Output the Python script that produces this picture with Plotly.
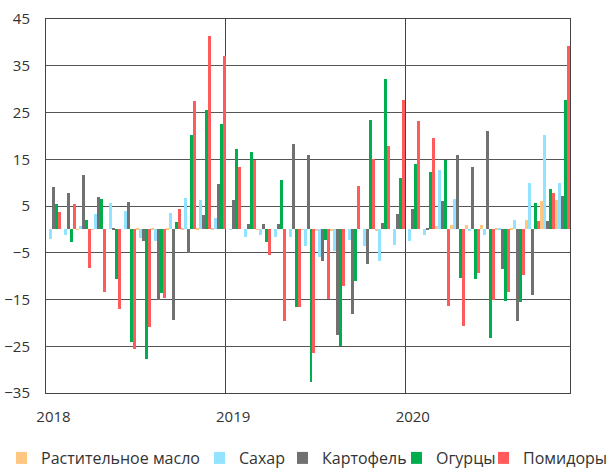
import plotly.graph_objects as go

months = list(range(35))  # Jan 2018 .. Nov 2020
tick_positions = [0, 12, 24]
tick_labels = ["2018", "2019", "2020"]
year_bounds = [11.5, 23.5]

oil = [0, 0, -0.1, -0.1, 0, 0, 0.2, 0.2, 0.4, 0.4, 0.1, 0.4,
       0, 0, -0.1, 0, 0, -0.1, -0.2, -0.3, 0, 0, -0.3, 0,
       0, 0, 0.7, 0.9, 0.9, 0.9, 0.4, 0.2, 2.1, 6.0, 6.3]
sugar = [-2.1, -1.1, 0.7, 3.3, 5.6, 3.9, -1.8, -2.4, 3.4, 6.8, 6.3, 2.4,
         -0.1, -1.6, -1.3, -1.6, -1.6, -3.6, -5.9, -4.6, -2.3, -3.5, -6.8, -3.3,
         -2.4, -1.2, 12.8, 6.4, -0.4, -1.1, 0.4, 2.1, 9.9, 20.2, 9.9]
potato = [9.0, 7.7, 11.6, 7.0, 0.2, 5.8, -2.5, -15.1, -19.3, -5.1, 3.1, 9.8,
          6.3, 1.2, 1.1, 1.1, 18.3, 16.0, -6.7, -22.5, -18.1, -7.4, 1.4, 3.2,
          4.3, 0.4, 6.1, 16.0, 13.3, 21.0, -8.4, -19.6, -14.1, 1.8, 7.1]
cucumber = [5.4, -2.6, 1.9, 6.6, -10.6, -24.0, -27.7, -13.7, 1.6, 20.2, 25.5, 22.5,
            17.1, 16.5, -2.7, 10.6, -16.5, -32.7, -2.2, -25.0, -11.0, 23.5, 32.1, 10.9,
            14.0, 12.3, 14.8, -10.3, -10.6, -23.2, -15.4, -15.6, 5.6, 8.6, 27.6]
tomato = [3.7, 5.4, -8.2, -13.5, -17.0, -25.6, -20.8, -14.6, 4.4, 27.4, 41.4, 37.1,
          13.3, 14.8, -5.4, -19.5, -16.6, -26.4, -14.8, -12.1, 9.2, 15.0, 17.8, 27.7,
          23.2, 19.5, -16.3, -20.7, -9.4, -15.0, -13.5, -9.7, 1.8, 7.7, 39.2]

series = [
    ("Растительное масло", oil, "#FFC682"),
    ("Сахар", sugar, "#92E3FF"),
    ("Картофель", potato, "#717171"),
    ("Огурцы", cucumber, "#00AE4E"),
    ("Помидоры", tomato, "#FF5B5B"),
]
legend_ids = ["legend", "legend2", "legend3", "legend4", "legend5"]
legend_x = [16, 214, 297, 411, 498]  # container px of each legend box

fig = go.Figure()
for (name, vals, col), lid in zip(series, legend_ids):
    fig.add_trace(go.Bar(x=months, y=vals, name=name, marker_color=col,
                         marker_line_width=0, legend=lid))

W, H = 607, 470
legends = {}
for lid, lx in zip(legend_ids, legend_x):
    legends[lid] = dict(orientation="h", xref="container", yref="container",
                        x=lx / W, y=(H - 458) / H, xanchor="left",
                        yanchor="middle", indentation=-15,
                        font=dict(family="Open Sans", size=16, color="#333333"),
                        itemwidth=30, borderwidth=0, bgcolor="rgba(0,0,0,0)")

fig.update_layout(
    width=W, height=H,
    margin=dict(l=46, r=37, t=19, b=77, autoexpand=False),
    paper_bgcolor="white", plot_bgcolor="white",
    barmode="group", bargap=0, bargroupgap=0,
    font=dict(family="Open Sans", size=15, color="#333333"),
    showlegend=True,
    **legends,
)
fig.update_xaxes(
    range=[-0.5, 34.5], tickmode="array", tickvals=tick_positions,
    ticktext=tick_labels, showgrid=False, zeroline=False,
    showline=True, linecolor="#444444", linewidth=1, mirror=True,
    ticks="", ticklabelstandoff=10,
    minor=dict(tickmode="array", tickvals=year_bounds, showgrid=True,
               gridcolor="#444444", gridwidth=1, ticks=""),
)
fig.update_yaxes(
    range=[-35, 45], tickmode="linear", tick0=-35, dtick=10,
    showgrid=True, gridcolor="#555555", gridwidth=1, zeroline=False,
    showline=True, linecolor="#444444", linewidth=1, mirror=True,
    ticks="", ticklabelstandoff=12,
)

fig.write_html("out.html", config={"displayModeBar": False},
               post_script="document.body.style.margin='0';")
